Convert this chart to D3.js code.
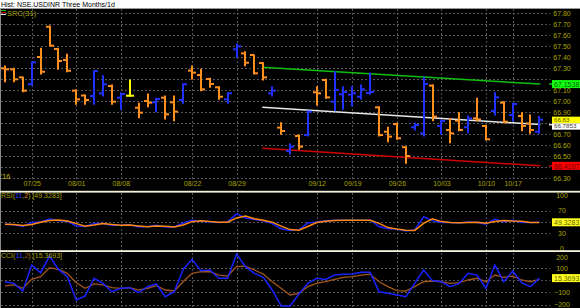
<!DOCTYPE html>
<html><head><meta charset="utf-8">
<script src="https://cdn.jsdelivr.net/npm/d3@7"></script>
<style>
html,body{margin:0;padding:0;background:#000;overflow:hidden;}
svg{display:block;}
text{font-family:"Liberation Sans",Arial,sans-serif;}
</style></head><body>
<svg id="c" width="580" height="308"></svg>
<script>
// ---- data ----
const dates = ["07/20","07/21","07/22","07/25","07/26","07/27","07/28","07/29",
  "08/01","08/02","08/03","08/04","08/05","08/08","08/09","08/10","08/11","08/12",
  "08/16","08/18","08/19","08/22","08/23","08/24","08/25","08/26",
  "08/29","08/30","08/31","09/01","09/02","09/06","09/07","09/08","09/09",
  "09/12","09/14","09/15","09/16","09/19","09/20","09/21","09/22","09/23",
  "09/26","09/27","09/28","09/29","09/30","10/03","10/04","10/05","10/06","10/07",
  "10/10","10/13","10/14","10/17","10/18","10/19","10/20"];
const open  = [67.297,67.288,67.215,67.152,67.400,67.675,67.473,67.373,67.094,67.050,67.045,67.070,67.136,67.030,67.048,66.939,67.000,66.988,67.030,66.988,67.009,67.276,67.236,67.200,67.124,67.015,67.470,67.433,67.418,67.345,67.070,66.758,66.545,66.682,66.691,67.079,67.191,66.994,67.061,67.058,67.039,67.073,66.942,66.721,66.790,66.580,66.761,66.706,67.140,66.773,66.736,66.821,66.761,66.842,66.773,66.909,66.985,66.873,66.864,66.797,66.721];
const high  = [67.318,67.297,67.215,67.357,67.479,67.682,67.479,67.425,67.100,67.055,67.276,67.230,67.145,67.073,67.191,66.979,67.064,67.024,67.045,67.045,67.155,67.318,67.288,67.206,67.130,67.076,67.518,67.448,67.418,67.348,67.130,66.803,66.609,66.691,66.909,67.130,67.197,67.267,67.130,67.130,67.145,67.252,66.948,66.761,66.797,66.585,66.797,67.215,67.145,66.827,66.842,66.894,66.864,67.024,66.779,67.076,66.994,66.979,66.894,66.873,66.858];
const low   = [67.175,67.175,67.085,67.145,67.245,67.500,67.288,67.266,66.970,66.970,66.970,67.045,66.970,66.924,67.045,66.848,66.948,66.903,66.836,66.821,66.979,67.200,67.094,67.124,67.015,66.979,67.397,67.321,67.245,67.191,67.045,66.697,66.518,66.561,66.682,66.964,67.024,66.912,66.924,66.955,67.018,67.061,66.682,66.630,66.652,66.433,66.736,66.682,66.821,66.700,66.621,66.730,66.712,66.821,66.645,66.873,66.803,66.818,66.730,66.706,66.706];
const close = [67.288,67.197,67.094,67.352,67.266,67.503,67.364,67.275,67.015,67.009,67.273,67.152,66.994,67.064,67.048,66.894,66.985,67.018,66.879,66.903,67.152,67.258,67.106,67.155,67.039,67.070,67.497,67.348,67.252,67.215,67.094,66.727,66.585,66.585,66.903,67.070,67.033,67.100,67.082,67.070,67.106,67.082,66.691,66.676,66.661,66.500,66.782,67.155,66.858,66.818,66.706,66.736,66.842,66.833,66.652,67.033,66.812,66.973,66.773,66.736,66.830];
const rsi       = [46,45,42,49,50,55,52,51,43,42,47,47,44,44,45,41,42,44,41,41,48,53,51,50,49,50,64,57,54,52,47,38,35,36,48,50,52,53,53,53,53,53,42,38,37,34,36,59,52,49,49,48,50,49,46,55,50,53,49,49,49.3283];
const rsiSignal = [46,45.5,43.5,45.5,49.5,52.5,53.5,51.5,47,42.5,44.5,47,45.5,44,44.5,43,41.5,43,42.5,41,44.5,50.5,52,50.5,49.5,49.5,57,60.5,55.5,53,49.5,42.5,36.5,35.5,42,49,51,52.5,53,53,53,53,47.5,40,37.5,35.5,35,47.5,55.5,50.5,49,48.5,49,49.5,47.5,50.5,52.5,51.5,51,49,49];
const cci       = [-14,-27,-89,121,59,194,86,27,-162,-129,14,-27,-95,-67,-62,-103,-54,-32,-135,-95,86,167,75,81,14,14,210,108,54,22,-81,-210,-210,-113,-27,14,5,40,46,48,62,62,-95,-108,-121,-135,-27,81,-5,-14,-54,-27,54,40,-67,121,-14,73,-22,-54,15.3693];
const cciSignal = [-48,-40,-67,5,27,99,86,54,-22,-67,-32,-40,-62,-67,-62,-81,-67,-46,-81,-89,-14,54,67,67,40,32,108,113,81,48,-14,-67,-121,-108,-54,-27,-14,5,22,27,40,48,-14,-54,-86,-89,-54,-14,-8,-14,-27,-22,0,14,-14,40,22,32,0,-14,5];
const dateTicks  = ["07/25","08/01","08/08","08/22","08/29","09/12","09/19","09/26","10/03","10/10","10/17"];
const priceTicks = [67.80,67.70,67.60,67.50,67.40,67.30,67.20,67.10,67.00,66.90,66.80,66.70,66.60,66.50,66.40,66.30];
const rsiTicks = [100,70,30,0];
const rsiGrid  = [70,50,30];
const cciTicks = [200,100,-100,-200];
const cciGrid  = [100,0,-100,-200];
const srcDates = ["09/01","10/20"];
const srcUpper = [67.306,67.1538];
const srcMid   = [66.943,66.7853];
const srcLower = [66.570,66.4107];

// ---- scales ----
const svg = d3.select("#c");
const x  = d3.scalePoint().domain(dates).range([5, 539.4]);
const yP = d3.scaleLinear().domain([66.30, 67.80]).range([178, 13]);
const yR = d3.scaleLinear().domain([0, 100]).range([250.4, 193.4]);
const yC = d3.scaleLinear().domain([-200, 200]).range([304.7, 255.3]);

const AX = "#aaa600", GRID = "#555555";
const lastClose = close[close.length-1];
const boxPrices = [srcUpper[1], srcMid[1], lastClose, srcLower[1]];

svg.append("rect").attr("width",580).attr("height",308).attr("fill","#000");
svg.append("rect").attr("width",580).attr("height",8).attr("fill","#fff");
svg.append("line").attr("x1",0).attr("x2",580).attr("y1",8.5).attr("y2",8.5).attr("stroke","#999");
svg.append("text").attr("x",1).attr("y",6.5).attr("font-size",7).attr("fill","#000").text("Hist: NSE.USDINR Three Months/1d");

// clip paths
const defs = svg.append("defs");
defs.append("clipPath").attr("id","cp").append("rect").attr("x",0).attr("y",9).attr("width",550).attr("height",181);
defs.append("clipPath").attr("id","cr").append("rect").attr("x",0).attr("y",192.5).attr("width",550).attr("height",57.5);
defs.append("clipPath").attr("id","cc").append("rect").attr("x",0).attr("y",252).attr("width",550).attr("height",56);

// horizontal gridlines
function hgrid(vals, sc){
  svg.append("g").selectAll("line").data(vals).join("line")
    .attr("x1",1).attr("x2",550).attr("y1",d=>Math.round(sc(d))+0.5).attr("y2",d=>Math.round(sc(d))+0.5)
    .attr("stroke",GRID).attr("stroke-dasharray","2,2");
}
hgrid(priceTicks, yP); hgrid(rsiGrid, yR); hgrid(cciGrid, yC);
// vertical gridlines
[[9,181],[193,250],[253,308]].forEach(([a,b])=>{
  svg.append("g").selectAll("line").data(dateTicks).join("line")
    .attr("x1",d=>Math.round(x(d))+0.5).attr("x2",d=>Math.round(x(d))+0.5)
    .attr("y1",a).attr("y2",b).attr("stroke",GRID).attr("stroke-dasharray","2,2");
});

// left border
svg.append("line").attr("x1",0.5).attr("x2",0.5).attr("y1",9).attr("y2",308).attr("stroke","#8a8a8a");

// axes labels (right); labels hidden behind value boxes are skipped
function rightAxis(vals, sc, fmt, dyFn){
  const g = svg.append("g").attr("transform","translate(562,0)")
    .call(d3.axisRight(sc).tickValues(vals).tickFormat(fmt).tickSize(0).tickPadding(0));
  g.select(".domain").remove();
  g.selectAll("text").attr("fill",AX).attr("font-size",7).attr("text-anchor","middle")
    .attr("font-family","Liberation Sans, Arial, sans-serif").attr("dy", d => dyFn ? dyFn(d) : "0.35em");
}
const visiblePriceTicks = priceTicks.filter(p => boxPrices.every(b => Math.abs(yP(p)-yP(b)) > 5.5));
rightAxis(visiblePriceTicks, yP, d3.format(".2f"));
rightAxis(rsiTicks, yR, d3.format("d"), d => d === 0 ? "-0.05em" : (d === 100 ? "0.55em" : "0.35em"));
rightAxis(cciTicks, yC, d3.format("d"), d => d === 200 ? "0.6em" : (d === -200 ? "0.2em" : "0.35em"));

// date axis
const gx = svg.append("g").attr("transform","translate(0,182)")
  .call(d3.axisBottom(x).tickValues(dateTicks).tickSize(0).tickPadding(0));
gx.select(".domain").remove();
gx.selectAll("text").attr("fill",AX).attr("font-size",7).attr("font-family","Liberation Sans, Arial, sans-serif").attr("dy","0.55em");
svg.append("text").attr("x",1).attr("y",178.5).attr("font-size",7).attr("fill","#c8c000").text("'16");

// regression channel
const gs = svg.append("g").attr("clip-path","url(#cp)");
[[srcUpper,"#10c010"],[srcMid,"#e8e8e8"],[srcLower,"#d00000"]].forEach(([v,c])=>{
  gs.append("line").attr("x1",x(srcDates[0])-1).attr("x2",x(srcDates[1])+1)
    .attr("y1",yP(v[0])).attr("y2",yP(v[1])).attr("stroke",c).attr("stroke-width",1.5);
  svg.append("line").attr("x1",549).attr("x2",553).attr("y1",yP(v[1])).attr("y2",yP(v[1])).attr("stroke",c).attr("stroke-width",1.5);
});

// OHLC bars
const bars = dates.map((d,i)=>({d,o:open[i],h:high[i],l:low[i],c:close[i]}));
const col = b => b.c>b.o ? "#2030ff" : (b.c<b.o ? "#ff9020" : "#ffff00");
const gb = svg.append("g").attr("clip-path","url(#cp)");
const bg = gb.selectAll("g").data(bars).join("g").attr("stroke",col).attr("stroke-width",2);
bg.append("line").attr("x1",b=>Math.round(x(b.d))).attr("x2",b=>Math.round(x(b.d)))
  .attr("y1",b=>yP(b.h)-0.5).attr("y2",b=>yP(b.l)+0.5);
bg.append("line").attr("x1",b=>Math.round(x(b.d))-4).attr("x2",b=>Math.round(x(b.d)))
  .attr("y1",b=>yP(b.o)).attr("y2",b=>yP(b.o));
bg.append("line").attr("x1",b=>Math.round(x(b.d))).attr("x2",b=>Math.round(x(b.d))+4)
  .attr("y1",b=>yP(b.c)).attr("y2",b=>yP(b.c));

// legend price
svg.append("line").attr("x1",1).attr("x2",6).attr("y1",10.5).attr("y2",10.5).attr("stroke","#10c010");
svg.append("line").attr("x1",1).attr("x2",6).attr("y1",12.5).attr("y2",12.5).attr("stroke","#d00000");
svg.append("line").attr("x1",1).attr("x2",6).attr("y1",14.5).attr("y2",14.5).attr("stroke","#e0e0e0");
svg.append("text").attr("x",7).attr("y",15.5).attr("font-size",7.5).attr("fill","#a8a000").text("SRC(31)");

// separators
svg.append("rect").attr("x",0).attr("y",190.8).attr("width",580).attr("height",1.8).attr("fill","#f4f2dc");
svg.append("rect").attr("x",0).attr("y",250.2).attr("width",580).attr("height",1.8).attr("fill","#f4f2dc");

// RSI
const lR = (arr)=>d3.line().x((v,i)=>x(dates[i])).y(v=>yR(v))(arr);
const gr = svg.append("g").attr("clip-path","url(#cr)");
gr.append("path").attr("d",lR(rsi)).attr("fill","none").attr("stroke","#1a22ff").attr("stroke-width",1.5);
gr.append("path").attr("d",lR(rsiSignal)).attr("fill","none").attr("stroke","#ff8a10").attr("stroke-width",1.5);
const tR = svg.append("text").attr("x",1).attr("y",198).attr("font-size",7).attr("fill","#a8a000");
tR.append("tspan").text("RSI(");
tR.append("tspan").attr("fill","#3040ff").text("11");
tR.append("tspan").text(",");
tR.append("tspan").attr("fill","#ff8a10").text("2");
tR.append("tspan").text(") [49.3283]");

// CCI
const lC = (arr)=>d3.line().x((v,i)=>x(dates[i])).y(v=>yC(v))(arr);
const gc = svg.append("g").attr("clip-path","url(#cc)");
gc.append("path").attr("d",lC(cciSignal)).attr("fill","none").attr("stroke","#a0561c").attr("stroke-width",1.3);
gc.append("path").attr("d",lC(cci)).attr("fill","none").attr("stroke","#1a22ff").attr("stroke-width",1.5);
const tC = svg.append("text").attr("x",1).attr("y",258).attr("font-size",7).attr("fill","#a8a000");
tC.append("tspan").text("CCI(");
tC.append("tspan").attr("fill","#3040ff").text("11");
tC.append("tspan").text(",");
tC.append("tspan").attr("fill","#a0561c").text("2");
tC.append("tspan").text(") [15.3693]");

// value boxes
function box(yTop, h, bgc, fg, label, fs){
  svg.append("rect").attr("x",552).attr("y",yTop).attr("width",28).attr("height",h).attr("fill",bgc);
  svg.append("text").attr("x",554).attr("y",yTop+h-1.2).attr("font-size",fs).attr("fill",fg).text(label);
}
box(yP(srcUpper[1])-4, 8, "#10ff10", "#006000", "67.1538", 7);
// white (mid) and yellow (last) boxes sit tightly stacked
const yMid = yP(srcMid[1]), yLast = yP(lastClose);
const split = (yMid + yLast) / 2 + 1;
box(split, 6.5, "#ffffff", "#404040", "66.7853", 6.2);
box(split-6.5, 6.5, "#ffff00", "#606000", "66.83", 6.2);
box(yP(srcLower[1])-4, 8, "#ff0000", "#600000", "66.4107", 7);
box(yR(rsi[rsi.length-1])-4, 8, "#ffff20", "#606000", "49.3283", 7);
box(yC(cci[cci.length-1])-4, 8, "#ffff20", "#606000", "15.3693", 7);
</script>
</body></html>
